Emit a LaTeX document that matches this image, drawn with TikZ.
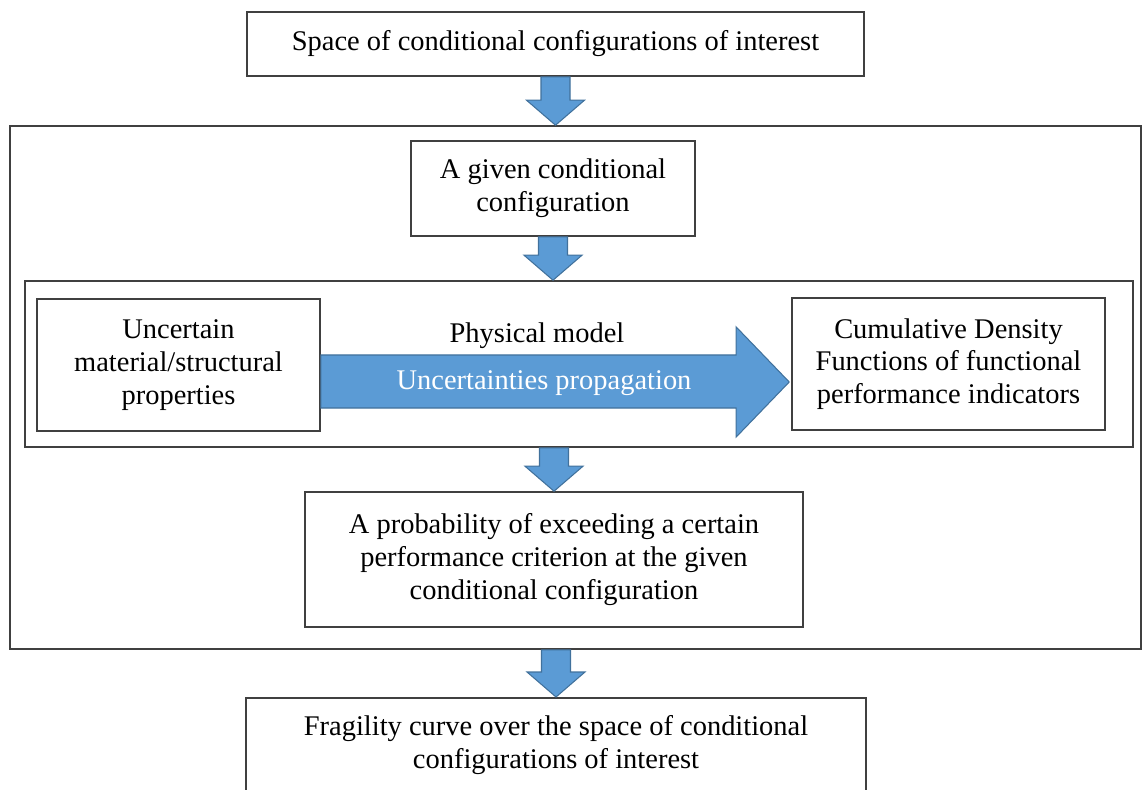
\documentclass[tikz,border=0pt]{standalone}
\usepackage{fontspec}
\setmainfont{Liberation Serif}
\usetikzlibrary{calc, positioning}
\definecolor{ArrowBlue}{RGB}{91,155,213}
\definecolor{ArrowEdge}{RGB}{65,113,156}
\definecolor{BoxLine}{RGB}{64,64,64}

% block arrow pointing down, x taken from the first point
\newcommand{\downblock}[2]{%
  \path[blockarr] let \p1=(#1), \p2=(#2) in
    (\x1-0.29cm,\y1) -- (\x1+0.29cm,\y1) -- (\x1+0.29cm,\y2+0.5cm)
    -- (\x1+0.58cm,\y2+0.5cm) -- (\x1,\y2) -- (\x1-0.58cm,\y2+0.5cm)
    -- (\x1-0.29cm,\y2+0.5cm) -- cycle;}

\begin{document}
\begin{tikzpicture}[font=\fontsize{16.2}{18.6}\selectfont,
    box/.style={draw=BoxLine, line width=0.9pt, fill=white, align=center, inner sep=0pt},
    frame/.style={draw=BoxLine, line width=0.9pt, inner sep=0pt},
    blockarr/.style={fill=ArrowBlue, draw=ArrowEdge, line width=0.6pt, line join=miter}]

\clip (0,0) rectangle (22.84,-15.8);

\node[frame, minimum width=22.62cm, minimum height=10.46cm] (outer) at (11.51,-7.75) {};
\node[frame, minimum width=22.16cm, minimum height=3.32cm] (inner) at (11.58,-7.28) {};

\node[box, minimum width=12.34cm, minimum height=1.28cm] (space) at (11.11,-0.88)
    {Space of conditional configurations of interest};
\node[box, minimum width=5.68cm, minimum height=1.9cm] (given) at (11.06,-3.77)
    {A given conditional\\ configuration};
\node[box, minimum width=5.66cm, minimum height=2.64cm] (props) at (3.57,-7.3)
    {Uncertain\\ material/structural\\ properties};
\node[box, minimum width=6.26cm, minimum height=2.64cm] (cdf) at (18.97,-7.28)
    {Cumulative Density\\ Functions of functional\\ performance indicators};
\node[box, minimum width=9.96cm, minimum height=2.7cm] (proba) at (11.08,-11.19)
    {A probability of exceeding a certain\\ performance criterion at the given\\ conditional configuration};
\node[box, minimum width=12.4cm, minimum height=1.9cm, anchor=north] (fragility) at (11.12,-13.94)
    {Fragility curve over the space of conditional\\ configurations of interest};

% propagation arrow
\path[blockarr] let \p1=(props.east), \p2=(cdf.west) in
    (\x1,\y1+0.2cm) -- (\x2-1.1cm,\y1+0.2cm) -- (\x2-1.1cm,\y1+0.76cm)
    -- (\x2-0.04cm,\y1-0.34cm) -- (\x2-1.1cm,\y1-1.44cm) -- (\x2-1.1cm,\y1-0.86cm)
    -- (\x1,\y1-0.86cm) -- cycle;
\node (model) at (10.74,-6.72) {Physical model};
\node[text=white] (prop) at (10.88,-7.66) {Uncertainties propagation};

\downblock{space.south}{outer.north}
\downblock{given.south}{inner.north}
\downblock{inner.south -| proba.north}{proba.north}
\downblock{outer.south -| fragility.north}{fragility.north}

\end{tikzpicture}
\end{document}
